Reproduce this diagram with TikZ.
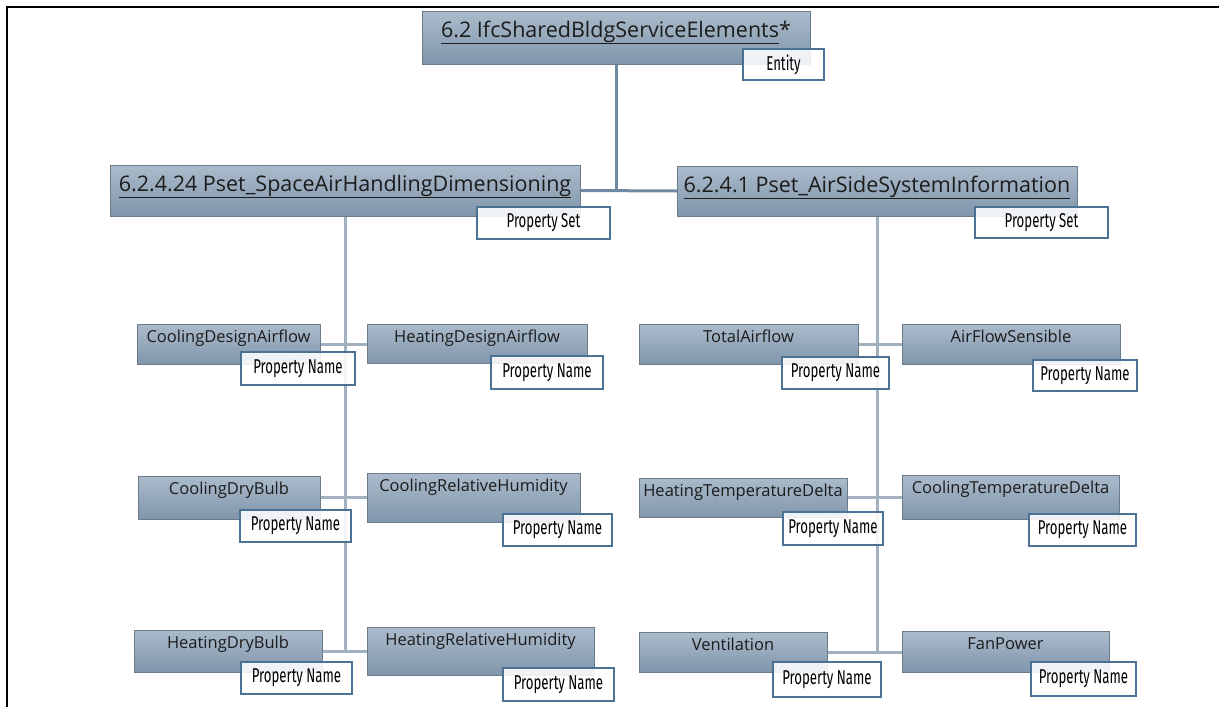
\documentclass[tikz,border=0pt]{standalone}
\usepackage{fontspec}
\setmainfont{Open Sans}
\newfontfamily\tagfont[FakeStretch=0.66]{Fira Sans}
\usetikzlibrary{shadings}

\definecolor{boxtop}{HTML}{AABBCB}
\definecolor{boxbot}{HTML}{8196AB}
\definecolor{boxline}{HTML}{6B7B8A}
\definecolor{tagline}{HTML}{4A7294}
\definecolor{linkdark}{HTML}{6F89A2}
\definecolor{linklight}{HTML}{A2B1C0}
\definecolor{textdark}{HTML}{1C1C1C}

\pgfdeclarelayer{bg}
\pgfsetlayers{bg,main}

\begin{document}
\begin{tikzpicture}[x=1pt,y=-1pt,
  head/.style 2 args={draw=boxline,line width=0.8pt,top color=boxtop,bottom color=boxbot,
    anchor=north west,inner xsep=0pt,inner ysep=2pt,outer sep=0pt,minimum width=#1,
    text height=24pt,text depth=#2,font=\fontsize{21.5}{24}\selectfont,text=textdark},
  elem/.style 2 args={draw=boxline,line width=0.8pt,top color=boxtop,bottom color=boxbot,
    anchor=north west,inner xsep=0pt,inner ysep=2pt,outer sep=0pt,minimum width=#1,
    text height=16.5pt,text depth=#2,font=\fontsize{16.5}{19}\selectfont,text=textdark},
  tag/.style 2 args={draw=tagline,line width=1.2pt,fill=white,fill opacity=0.88,text opacity=1,
    anchor=north west,inner sep=0pt,outer sep=0pt,minimum width=#1,minimum height=#2,
    font=\tagfont\fontsize{20}{23}\selectfont},
  trunk/.style={linkdark,line width=3pt},
  branch/.style={linklight,line width=3pt}]

  \useasboundingbox (0,0) rectangle (1219,707);

  % Frame
  \draw[black,line width=2.5pt] (7,707) -- (7,7) -- (1219,7);

  % Entity node
  \node[head={388}{25}] (ifc) at (422,11) {\underline{6.2 IfcSharedBldgServiceElements}*};
  \node[tag={81}{31}] (ifctag) at (743,49) {Entity};

  % Property set nodes
  \node[head={470}{23}] (lset) at (110,165) {\underline{6.2.4.24 Pset\_SpaceAirHandlingDimensioning}};
  \node[tag={133}{32}] (lsettag) at (477,207) {Property Set};
  \node[head={400}{22}] (rset) at (677,166) {\underline{6.2.4.1 Pset\_AirSideSystemInformation}};
  \node[tag={133}{31}] (rsettag) at (975,207) {Property Set};

  % Property nodes, left set
  \node[elem={183}{19.5}] (cda) at (137,324) {CoolingDesignAirflow};
  \node[tag={114}{33}] (cdatag) at (241,352) {Property Name};
  \node[elem={220}{18.5}] (hda) at (367,324) {HeatingDesignAirflow};
  \node[tag={112}{33}] (hdatag) at (491,356) {Property Name};
  \node[elem={182}{22.5}] (cdb) at (138,476) {CoolingDryBulb};
  \node[tag={111}{32}] (cdbtag) at (240,510) {Property Name};
  \node[elem={213}{28.5}] (crh) at (367,473) {CoolingRelativeHumidity};
  \node[tag={109}{32}] (crhtag) at (503,514) {Property Name};
  \node[elem={188}{21.5}] (hdb) at (134,630) {HeatingDryBulb};
  \node[tag={111}{32}] (hdbtag) at (241,662) {Property Name};
  \node[elem={227}{27.5}] (hrh) at (367,627) {HeatingRelativeHumidity};
  \node[tag={111}{33}] (hrhtag) at (503,668) {Property Name};

  % Property nodes, right set
  \node[elem={219}{19.5}] (ta) at (639,324) {TotalAirflow};
  \node[tag={107}{32}] (tatag) at (782,357) {Property Name};
  \node[elem={218}{19.5}] (afs) at (902,324) {AirFlowSensible};
  \node[tag={104}{31}] (afstag) at (1033,360) {Property Name};
  \node[elem={208}{18.5}] (htd) at (639,478) {HeatingTemperatureDelta};
  \node[tag={100}{33}] (htdtag) at (783,512) {Property Name};
  \node[elem={217}{23.5}] (ctd) at (902,475) {CoolingTemperatureDelta};
  \node[tag={107}{32}] (ctdtag) at (1029,514) {Property Name};
  \node[elem={188}{19.5}] (ven) at (639,632) {Ventilation};
  \node[tag={108}{35}] (ventag) at (773,662) {Property Name};
  \node[elem={207}{20.5}] (fp) at (902,631) {FanPower};
  \node[tag={105}{34}] (fptag) at (1031,662) {Property Name};

  \begin{pgfonlayer}{bg}
    % Connect entity to property sets
    \draw[trunk] (ifc.south) -- (ifc.south |- lset.east);
    \draw[trunk] (lset.east) -- (rset.west);

    % Connect property sets to their properties
    \draw[branch] (lset.south) -- (lset.south |- hdb.east);
    \draw[branch] (cda.east) -- (cda.east -| hda.west);
    \draw[branch] (cdb.east) -- (cdb.east -| crh.west);
    \draw[branch] (hdb.east) -- (hdb.east -| hrh.west);
    \draw[branch] (rset.south) -- (rset.south |- ven.east);
    \draw[branch] (ta.east) -- (ta.east -| afs.west);
    \draw[branch] (htd.east) -- (htd.east -| ctd.west);
    \draw[branch] (ven.east) -- (ven.east -| fp.west);
  \end{pgfonlayer}

\end{tikzpicture}
\end{document}
